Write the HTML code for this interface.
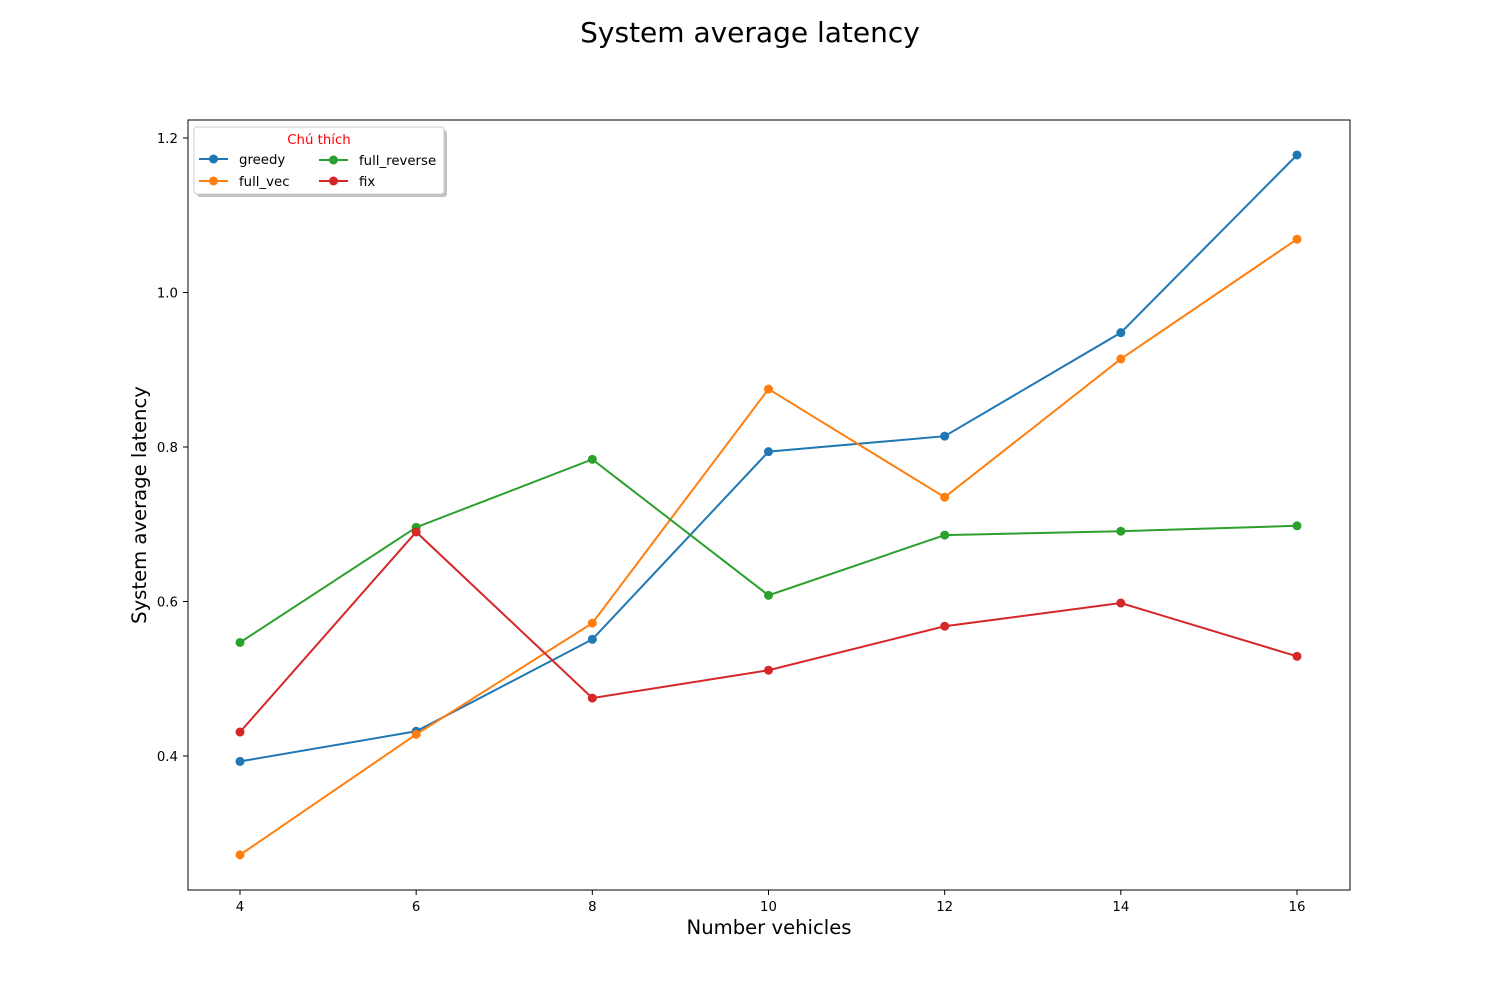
<!DOCTYPE html>
<html><head><meta charset="utf-8"><style>
body{margin:0;background:#fff;}
svg{display:block;font-family:"DejaVu Sans","Liberation Sans",sans-serif;}
</style></head><body>
<svg id="chart" width="1500" height="1000">
<rect width="1500" height="1000" fill="#fff"/>
<text x="750" y="42" text-anchor="middle" font-size="28">System average latency</text>
<g id="plot"></g>
<rect x="188" y="120" width="1162" height="770" fill="none" stroke="#000" stroke-width="1"/>
<text x="769" y="934" text-anchor="middle" font-size="19.6">Number vehicles</text>
<text transform="translate(146,505) rotate(-90)" text-anchor="middle" font-size="19.6">System average latency</text>
<g>
<rect x="197" y="130" width="250" height="67" rx="3" fill="#999" opacity="0.6"/>
<rect x="194" y="127" width="250" height="67" rx="3" fill="#fff" stroke="#ccc"/>
<text x="319" y="144" text-anchor="middle" font-size="13.3" fill="red">Chú thích</text>
<g id="legend-items"></g>
</g>
</svg>
<script>
const categories=[4,6,8,10,12,14,16];
const greedy=[0.393,0.432,0.551,0.794,0.814,0.948,1.178];
const fullVec=[0.272,0.428,0.572,0.875,0.735,0.914,1.069];
const fullReverse=[0.547,0.696,0.784,0.608,0.686,0.691,0.698];
const fix=[0.431,0.690,0.475,0.511,0.568,0.598,0.529];
const xTicks=[4,6,8,10,12,14,16];
const yTicks=[0.4,0.6,0.8,1.0,1.2];
const seriesNames=["greedy","full_vec","full_reverse","fix"];
const colors=["#1f77b4","#ff7f0e","#2ca02c","#d62728"];
const seriesData=[greedy,fullVec,fullReverse,fix];

const NS="http://www.w3.org/2000/svg";
function xs(v){return 240+(v-4)*(1297-240)/12;}
function ys(v){return 756-(v-0.4)*(756-138)/0.8;}
function mk(tag,attrs,parent){const e=document.createElementNS(NS,tag);for(const k in attrs)e.setAttribute(k,attrs[k]);parent.appendChild(e);return e;}
const plot=document.getElementById('plot');
xTicks.forEach(t=>{
  const l=mk('line',{x1:xs(t),x2:xs(t),y1:890,y2:895,stroke:'#000'},plot);
  
  
  const tx=mk('text',{x:xs(t),y:911,'text-anchor':'middle','font-size':13.3},plot);
  tx.textContent=t;
  
  
});
yTicks.forEach(t=>{
  const l=mk('line',{x1:183,x2:188,y1:ys(t),y2:ys(t),stroke:'#000'},plot);
  
  
  const tx=mk('text',{x:178,y:ys(t)+5,'text-anchor':'end','font-size':13.3},plot);
  tx.textContent=t.toFixed(1);
  
  
});
seriesData.forEach((d,i)=>{
  const g=mk('g',{},plot);
  
  
  const pts=d.map((v,j)=>xs(categories[j])+','+ys(v)).join(' ');
  const pl=mk('polyline',{points:pts,fill:'none',stroke:colors[i],'stroke-width':2},g);
  
  
  d.forEach((v,j)=>{
    const c=mk('circle',{cx:xs(categories[j]),cy:ys(v),r:4.5,fill:colors[i]},g);
    
    
  });
});
const li=document.getElementById('legend-items');
const pos=[[199,159],[199,181],[319,160],[319,181]];
seriesNames.forEach((n,i)=>{
  const [x,y]=pos[i];
  const g=mk('g',{},li);
  
  
  mk('line',{x1:x,x2:x+29,y1:y,y2:y,stroke:colors[i],'stroke-width':2},g);
  mk('circle',{cx:x+14.5,cy:y,r:4.5,fill:colors[i]},g);
  const t=mk('text',{x:x+40,y:y+5,'font-size':13.3},g);
  t.textContent=n;
});
</script>
</body></html>
